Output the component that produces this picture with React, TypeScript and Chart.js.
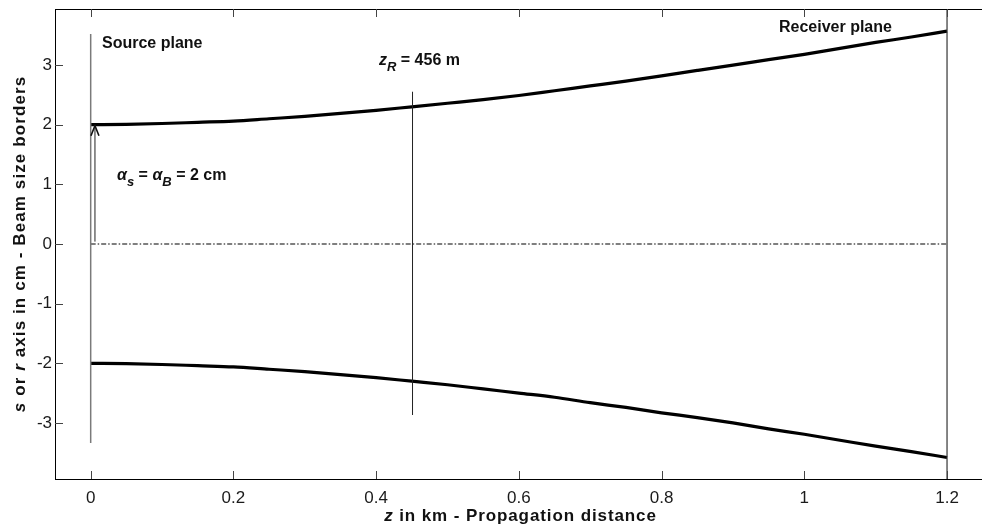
import React, { useEffect, useRef } from "react";
import { Chart, registerables } from "chart.js";

Chart.register(...registerables);

// ---- data ----
const zKm = [0, 0.05, 0.1, 0.15, 0.2, 0.25, 0.3, 0.35, 0.4, 0.45, 0.5, 0.55, 0.6, 0.65, 0.7, 0.75, 0.8, 0.85, 0.9, 0.95, 1.0, 1.05, 1.1, 1.15, 1.2];
const upperBorder = [2.0, 2.005, 2.02, 2.04, 2.06, 2.1, 2.14, 2.19, 2.24, 2.3, 2.36, 2.42, 2.49, 2.57, 2.65, 2.73, 2.82, 2.91, 3.0, 3.09, 3.18, 3.28, 3.38, 3.47, 3.57];
const lowerBorder = [-2.0, -2.005, -2.02, -2.04, -2.06, -2.1, -2.14, -2.19, -2.24, -2.3, -2.36, -2.43, -2.5, -2.57, -2.66, -2.74, -2.83, -2.91, -3.0, -3.1, -3.19, -3.29, -3.39, -3.48, -3.58];
const xTicks = [0, 0.2, 0.4, 0.6, 0.8, 1, 1.2];
const yTicks = [-3, -2, -1, 0, 1, 2, 3];
const xRange = [-0.05, 1.249];
const yRange = [-3.94, 3.94];
const sourcePlaneZ = 0;
const sourcePlaneSpan = [-3.336, 3.52];
const rayleighZ = 0.451;
const rayleighSpan = [-2.867, 2.553];
const receiverPlaneZ = 1.2;
const axisLineZ = [0, 1.2];
const arrowZ = 0.006;
const arrowSpan = [0.04, 2.0];
const sourceLabelAt = [0.0159, 3.286];
const receiverLabelAt = [0.9645, 3.554];
const rayleighLabelAt = [0.404, 3.001];
const waistLabelAt = [0.0369, 1.073];

type Run = { text: string; italic?: boolean; sub?: boolean };

function drawRuns(
  ctx: CanvasRenderingContext2D,
  runs: Run[],
  x: number,
  y: number,
  size: number,
  align: "left" | "center",
  spacing = 0
) {
  const fam = '"Liberation Sans", Arial, sans-serif';
  const fontOf = (r: Run) =>
    `${r.italic ? "italic " : ""}bold ${r.sub ? Math.round(size * 0.82) : size}px ${fam}`;
  (ctx as any).letterSpacing = spacing + "px";
  let total = 0;
  const widths = runs.map((r) => {
    ctx.font = fontOf(r);
    const w = ctx.measureText(r.text).width;
    total += w;
    return w;
  });
  let cx = align === "center" ? x - total / 2 : x;
  ctx.textAlign = "left";
  ctx.textBaseline = "alphabetic";
  runs.forEach((r, i) => {
    ctx.font = fontOf(r);
    ctx.fillText(r.text, cx, y + (r.sub ? size * 0.4 : 0));
    cx += widths[i];
  });
  (ctx as any).letterSpacing = "0px";
}

const decorPlugin = {
  id: "decor",
  afterDraw(chart: any) {
    const { ctx, chartArea: a, scales } = chart;
    const xs = scales.x;
    const ys = scales.y;
    ctx.save();
    // axes box (top, left, bottom)
    ctx.strokeStyle = "#000";
    ctx.lineWidth = 1;
    ctx.beginPath();
    ctx.moveTo(a.left + 0.5, a.top + 0.5);
    ctx.lineTo(a.right + 2, a.top + 0.5);
    ctx.moveTo(a.left + 0.5, a.top);
    ctx.lineTo(a.left + 0.5, a.bottom + 0.5);
    ctx.moveTo(a.left, a.bottom + 0.5);
    ctx.lineTo(a.right + 2, a.bottom + 0.5);
    ctx.stroke();
    // inward ticks
    ctx.strokeStyle = "#444";
    ctx.beginPath();
    xTicks.forEach((v) => {
      const px = Math.round(xs.getPixelForValue(v)) + 0.5;
      ctx.moveTo(px, a.bottom);
      ctx.lineTo(px, a.bottom - 8);
      ctx.moveTo(px, a.top);
      ctx.lineTo(px, a.top + 8);
    });
    yTicks.forEach((v) => {
      const py = Math.round(ys.getPixelForValue(v)) + 0.5;
      ctx.moveTo(a.left, py);
      ctx.lineTo(a.left + 8, py);
    });
    ctx.stroke();
    // arrow head
    const ax = xs.getPixelForValue(arrowZ);
    const ay = ys.getPixelForValue(arrowSpan[1]);
    ctx.strokeStyle = "#111";
    ctx.lineWidth = 1.6;
    ctx.beginPath();
    ctx.moveTo(ax - 4, ay + 11);
    ctx.lineTo(ax, ay + 1);
    ctx.lineTo(ax + 4, ay + 11);
    ctx.stroke();
    // annotations
    ctx.fillStyle = "#111";
    const P = (p: number[]) => [xs.getPixelForValue(p[0]), ys.getPixelForValue(p[1])];
    let [tx, ty] = P(sourceLabelAt);
    drawRuns(ctx, [{ text: "Source plane" }], tx, ty, 16, "left");
    [tx, ty] = P(receiverLabelAt);
    drawRuns(ctx, [{ text: "Receiver plane" }], tx, ty, 16, "left");
    [tx, ty] = P(rayleighLabelAt);
    drawRuns(ctx, [{ text: "z", italic: true }, { text: "R", italic: true, sub: true }, { text: " = 456 m" }], tx, ty, 16, "left");
    [tx, ty] = P(waistLabelAt);
    drawRuns(
      ctx,
      [
        { text: "\u03b1", italic: true },
        { text: "s", italic: true, sub: true },
        { text: " = " },
        { text: "\u03b1", italic: true },
        { text: "B", italic: true, sub: true },
        { text: " = 2 cm" },
      ],
      tx,
      ty,
      16,
      "left"
    );
    // axis titles
    ctx.fillStyle = "#111";
    drawRuns(ctx, [{ text: "z", italic: true }, { text: " in km - Propagation distance" }], (a.left + a.right) / 2 + 2, 521, 17, "center", 0.9);
    ctx.save();
    ctx.translate(25, (a.top + a.bottom) / 2);
    ctx.rotate(-Math.PI / 2);
    drawRuns(
      ctx,
      [
        { text: "s", italic: true },
        { text: " or " },
        { text: "r", italic: true },
        { text: " axis in cm - Beam size borders" },
      ],
      0,
      0,
      17,
      "center",
      1.1
    );
    ctx.restore();
    ctx.restore();
  },
};

export default function App() {
  const ref = useRef<HTMLCanvasElement>(null);
  useEffect(() => {
    if (!ref.current) return;
    const pts = (ys: number[]) => zKm.map((z, i) => ({ x: z, y: ys[i] }));
    const chart = new Chart(ref.current, {
      type: "scatter",
      data: {
        datasets: [
          {
            label: "source plane",
            data: [
              { x: sourcePlaneZ, y: sourcePlaneSpan[0] },
              { x: sourcePlaneZ, y: sourcePlaneSpan[1] },
            ],
            showLine: true,
            borderColor: "#7a7a7a",
            borderWidth: 1.5,
            pointRadius: 0,
          },
          {
            label: "zR",
            data: [
              { x: rayleighZ, y: rayleighSpan[0] },
              { x: rayleighZ, y: rayleighSpan[1] },
            ],
            showLine: true,
            borderColor: "#222",
            borderWidth: 1,
            pointRadius: 0,
          },
          {
            label: "receiver plane",
            data: [
              { x: receiverPlaneZ, y: yRange[0] },
              { x: receiverPlaneZ, y: yRange[1] },
            ],
            showLine: true,
            borderColor: "#333",
            borderWidth: 1.2,
            pointRadius: 0,
          },
          {
            label: "axis",
            data: [
              { x: axisLineZ[0], y: 0 },
              { x: axisLineZ[1], y: 0 },
            ],
            showLine: true,
            borderColor: "#000",
            borderWidth: 1.2,
            borderDash: [5, 2, 1.5, 2],
            pointRadius: 0,
          },
          {
            label: "arrow",
            data: [
              { x: arrowZ, y: arrowSpan[0] },
              { x: arrowZ, y: arrowSpan[1] },
            ],
            showLine: true,
            borderColor: "#222",
            borderWidth: 1,
            pointRadius: 0,
          },
          {
            label: "upper",
            data: pts(upperBorder),
            showLine: true,
            borderColor: "#000",
            borderWidth: 3.2,
            pointRadius: 0,
            cubicInterpolationMode: "monotone",
          },
          {
            label: "lower",
            data: pts(lowerBorder),
            showLine: true,
            borderColor: "#000",
            borderWidth: 3.2,
            pointRadius: 0,
            cubicInterpolationMode: "monotone",
          },
        ],
      },
      options: {
        responsive: false,
        animation: false,
        devicePixelRatio: 1,
        layout: { padding: { top: 9, left: 0, right: 0, bottom: 0 } },
        plugins: { legend: { display: false }, tooltip: { enabled: false } },
        scales: {
          x: {
            type: "linear",
            min: xRange[0],
            max: xRange[1],
            grid: { display: false, drawTicks: false },
            border: { display: false },
            afterBuildTicks: (s: any) => {
              s.ticks = xTicks.map((v) => ({ value: v }));
            },
            afterFit: (s: any) => {
              s.height = 51;
              s.paddingLeft = 0;
              s.paddingRight = 0;
            },
            ticks: {
              padding: 9,
              maxRotation: 0,
              autoSkip: false,
              color: "#1a1a1a",
              font: { family: '"Liberation Sans", Arial, sans-serif', size: 17 },
              callback: (v: any) => String(v),
            },
          },
          y: {
            type: "linear",
            min: yRange[0],
            max: yRange[1],
            grid: { display: false, drawTicks: false },
            border: { display: false },
            afterBuildTicks: (s: any) => {
              s.ticks = yTicks.map((v) => ({ value: v }));
            },
            afterFit: (s: any) => {
              s.width = 55;
              s.paddingTop = 0;
              s.paddingBottom = 0;
            },
            ticks: {
              padding: 3,
              autoSkip: false,
              color: "#1a1a1a",
              font: { family: '"Liberation Sans", Arial, sans-serif', size: 17 },
              callback: (v: any) => String(v),
            },
          },
        },
      },
      plugins: [decorPlugin],
    } as any);
    return () => chart.destroy();
  }, []);
  return (
    <div style={{ position: "fixed", left: 0, top: 0, width: 982, height: 530, overflow: "hidden", background: "#fff" }}>
      <canvas ref={ref} width={982} height={530} style={{ width: 982, height: 530, display: "block" }} />
    </div>
  );
}
